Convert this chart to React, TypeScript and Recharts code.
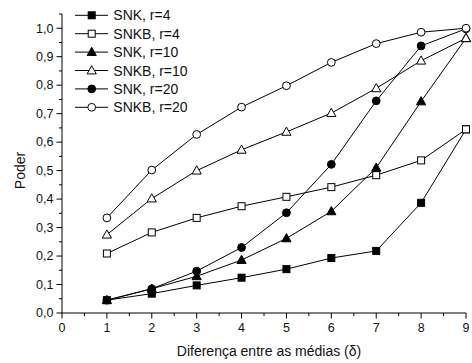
import React from 'react';
import { LineChart, Line, XAxis, YAxis, Legend, Label } from 'recharts';

const deltas = [1, 2, 3, 4, 5, 6, 7, 8, 9];
const snkR4 = [0.045, 0.068, 0.097, 0.124, 0.154, 0.193, 0.218, 0.387, 0.645];
const snkbR4 = [0.209, 0.283, 0.334, 0.375, 0.408, 0.442, 0.484, 0.536, 0.645];
const snkR10 = [0.045, 0.085, 0.129, 0.186, 0.262, 0.357, 0.51, 0.743, 0.965];
const snkbR10 = [0.275, 0.402, 0.5, 0.573, 0.636, 0.702, 0.789, 0.886, 0.965];
const snkR20 = [0.045, 0.085, 0.147, 0.23, 0.352, 0.522, 0.745, 0.938, 0.998];
const snkbR20 = [0.334, 0.502, 0.627, 0.723, 0.798, 0.88, 0.946, 0.986, 1.0];

const seriesNames = ['SNK, r=4', 'SNKB, r=4', 'SNK, r=10', 'SNKB, r=10', 'SNK, r=20', 'SNKB, r=20'];
const seriesKeys = ['snk4', 'snkb4', 'snk10', 'snkb10', 'snk20', 'snkb20'];
const seriesValues = [snkR4, snkbR4, snkR10, snkbR10, snkR20, snkbR20];
const seriesShapes = ['square', 'square', 'triangle', 'triangle', 'circle', 'circle'];
const seriesFilled = [true, false, true, false, true, false];

const xTicks = [0, 0.5, 1, 1.5, 2, 2.5, 3, 3.5, 4, 4.5, 5, 5.5, 6, 6.5, 7, 7.5, 8, 8.5, 9];
const yTicks = [0, 0.05, 0.1, 0.15, 0.2, 0.25, 0.3, 0.35, 0.4, 0.45, 0.5, 0.55, 0.6, 0.65, 0.7, 0.75, 0.8, 0.85, 0.9, 0.95, 1.0, 1.05];

const xTitle = 'Diferença entre as médias (δ)';
const yTitle = 'Poder';

const FONT = '"Liberation Sans", Arial, sans-serif';

const data = deltas.map((d, i) => {
  const row: any = { x: d };
  seriesKeys.forEach((k, s) => {
    row[k] = seriesValues[s][i];
  });
  return row;
});

function Marker({ cx, cy, shape, filled }: any) {
  const fill = filled ? '#000' : '#fff';
  if (shape === 'square') {
    return <rect x={cx - 3.5} y={cy - 3.5} width={7} height={7} fill={fill} stroke="#000" strokeWidth={1} />;
  }
  if (shape === 'triangle') {
    return (
      <polygon
        points={`${cx},${cy - 4.8} ${cx + 4.6},${cy + 3.4} ${cx - 4.6},${cy + 3.4}`}
        fill={fill}
        stroke="#000"
        strokeWidth={1}
      />
    );
  }
  return <circle cx={cx} cy={cy} r={3.9} fill={fill} stroke="#000" strokeWidth={1} />;
}

function XTick({ x, y, payload }: any) {
  const v = payload.value;
  const major = Math.abs(v - Math.round(v)) < 1e-6;
  return (
    <g>
      <line x1={x} y1={y} x2={x} y2={y + (major ? 5.5 : 3)} stroke="#000" strokeWidth={1} />
      {major && (
        <text x={x} y={y + 19} textAnchor="middle" fontSize={12.5} fontFamily={FONT} fill="#111">
          {String(v)}
        </text>
      )}
    </g>
  );
}

function YTick({ x, y, payload }: any) {
  const v = payload.value;
  const major = Math.abs(v * 10 - Math.round(v * 10)) < 1e-6 && v <= 1.0001;
  return (
    <g>
      <line x1={x - (major ? 5.5 : 3)} y1={y} x2={x} y2={y} stroke="#000" strokeWidth={1} />
      {major && (
        <text x={x - 8.5} y={y + 4.3} textAnchor="end" fontSize={12.5} fontFamily={FONT} fill="#111">
          {v.toFixed(1).replace('.', ',')}
        </text>
      )}
    </g>
  );
}

function LegendBox() {
  return (
    <svg width={150} height={115} style={{ display: 'block' }}>
      {seriesNames.map((name, i) => {
        const cy = 9.3 + i * 18.4;
        return (
          <g key={name}>
            <line x1={5} y1={cy} x2={38} y2={cy} stroke="#000" strokeWidth={1} />
            <Marker cx={21.7} cy={cy} shape={seriesShapes[i]} filled={seriesFilled[i]} />
            <text x={43.3} y={cy + 5} fontSize={14} fontFamily={FONT} fill="#111">
              {name}
            </text>
          </g>
        );
      })}
    </svg>
  );
}

export default function App() {
  return (
    <div style={{ position: 'absolute', left: 0, top: 0, width: 472, height: 363, background: '#fff' }}>
      <LineChart width={472} height={363} data={data} margin={{ top: 14, right: 6, bottom: 0, left: 0 }}>
        <XAxis
          dataKey="x"
          type="number"
          domain={[0, 9]}
          ticks={xTicks}
          interval={0}
          tickSize={0}
          tickMargin={0}
          tickLine={false}
          axisLine={{ stroke: '#000', strokeWidth: 1 }}
          tick={<XTick />}
          height={50}
        >
          <Label
            content={(props: any) => {
              const vb = props.viewBox || { x: 62, y: 313, width: 404, height: 50 };
              return (
                <text
                  x={vb.x + vb.width / 2 + 5}
                  y={vb.y + 43}
                  textAnchor="middle"
                  fontSize={14}
                  fontFamily={FONT}
                  fill="#111"
                >
                  {xTitle}
                </text>
              );
            }}
          />
        </XAxis>
        <YAxis
          type="number"
          domain={[0, 1.05]}
          ticks={yTicks}
          interval={0}
          tickSize={0}
          tickMargin={0}
          tickLine={false}
          axisLine={{ stroke: '#000', strokeWidth: 1 }}
          tick={<YTick />}
          width={62}
          allowDataOverflow
        >
          <Label
            content={(props: any) => {
              const vb = props.viewBox || { x: 0, y: 14, width: 62, height: 299 };
              const cx = vb.x + 25;
              const cy = vb.y + vb.height / 2 + 7;
              return (
                <text
                  x={cx}
                  y={cy}
                  transform={`rotate(-90 ${cx} ${cy})`}
                  textAnchor="middle"
                  fontSize={14}
                  fontFamily={FONT}
                  fill="#111"
                >
                  {yTitle}
                </text>
              );
            }}
          />
        </YAxis>
        <Legend
          layout="horizontal"
          verticalAlign="middle"
          align="center"
          content={() => <LegendBox />}
          wrapperStyle={{ left: 70, top: 6, width: 150, height: 115 }}
        />
        {seriesKeys.map((k, i) => (
          <Line
            key={k}
            dataKey={k}
            name={seriesNames[i]}
            stroke="#000"
            strokeWidth={1}
            isAnimationActive={false}
            dot={(p: any) => (
              <Marker key={`${k}-${p.index}`} cx={p.cx} cy={p.cy} shape={seriesShapes[i]} filled={seriesFilled[i]} />
            )}
            activeDot={false}
          />
        ))}
      </LineChart>
    </div>
  );
}
